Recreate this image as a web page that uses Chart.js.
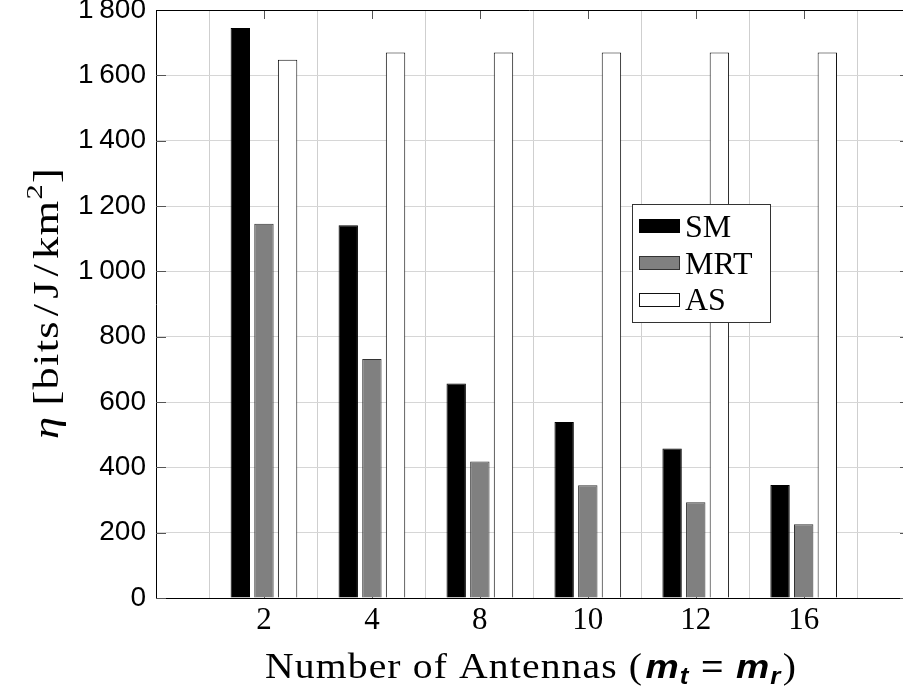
<!DOCTYPE html>
<html>
<head>
<meta charset="utf-8">
<script src="https://cdn.jsdelivr.net/npm/chart.js@4.4.1/dist/chart.umd.min.js"></script>
<style>
  html, body { margin: 0; padding: 0; background: #fff; }
  #c { display: block; }
</style>
</head>
<body>
<canvas id="c" width="903" height="692"></canvas>
<script>
// Number of antennas (m_t = m_r) on the horizontal axis
const antennas = ['2', '4', '8', '10', '12', '16'];
// Energy efficiency η [bits/J/km²] per scheme
const smValues  = [1745, 1141, 657, 539, 458, 346];
const mrtValues = [1146, 732, 418, 345, 293, 226];
const asValues  = [1648, 1670, 1670, 1670, 1670, 1670];
// Vertical axis ticks
const yTicks = [0, 200, 400, 600, 800, 1000, 1200, 1400, 1600, 1800];

const SERIF = '"Liberation Serif", "DejaVu Serif", serif';
const SANS = '"Liberation Sans", "DejaVu Sans", sans-serif';

const toPoints = vals => vals.map((v, i) => ({ x: i + 1, y: v }));

function fmtThousands(v) {
  const s = String(v);
  return s.length > 3 ? s.slice(0, -3) + '\u2009' + s.slice(-3) : s;
}

function line(ctx, x1, y1, x2, y2) {
  ctx.beginPath(); ctx.moveTo(x1, y1); ctx.lineTo(x2, y2); ctx.stroke();
}

// Natural width of a run of styled text pieces
function runsWidth(ctx, runs) {
  return runs.reduce((w, r) => {
    ctx.font = r.font;
    return w + ctx.measureText(r.text).width + (r.gap || 0);
  }, 0);
}

// Draws the runs centred on (cx, y) over the given span: letters are
// spread a little first, any remainder is taken up by a mild widening
function drawSpan(ctx, runs, cx, y, span, maxSpacing) {
  const w0 = runsWidth(ctx, runs);
  const n = runs.reduce((c, r) => c + [...r.text].length, 0);
  const ls = Math.max(0, Math.min(maxSpacing, (span - w0) / n));
  const w1 = w0 + ls * n;
  const k = span / w1;
  ctx.save();
  ctx.translate(cx, y);
  ctx.scale(k, 1);
  let x = -w1 / 2;
  runs.forEach(r => {
    ctx.font = r.font;
    const base = ctx.measureText(r.text).width;
    let cxp = x;
    [...r.text].forEach(ch => {
      ctx.fillText(ch, cxp, r.dy || 0);
      cxp += ctx.measureText(ch).width + ls;
    });
    x += base + ls * [...r.text].length + (r.gap || 0);
  });
  ctx.restore();
}

// Inward tick marks, drawn beneath the bars
const innerTicks = {
  id: 'innerTicks',
  beforeDatasetsDraw(chart) {
    const { ctx, chartArea: a, scales: { x, y } } = chart;
    ctx.save();
    ctx.strokeStyle = '#555';
    ctx.lineWidth = 1;
    y.ticks.forEach(t => {
      const py = Math.round(y.getPixelForValue(t.value)) + 0.5;
      line(ctx, a.left, py, a.left + 10, py);
      line(ctx, a.right, py, a.right - 3, py);
    });
    x.ticks.forEach(t => {
      const px = Math.round(x.getPixelForValue(t.value)) + 0.5;
      line(ctx, px, a.top, px, a.top + 9);
      line(ctx, px, a.bottom, px, a.bottom - 9);
    });
    ctx.restore();
  }
};

// Frame top edge, legend box and axis titles
const decorations = {
  id: 'decorations',
  afterDraw(chart) {
    const { ctx, chartArea: a } = chart;
    ctx.save();
    ctx.strokeStyle = '#000';
    ctx.lineWidth = 1;
    line(ctx, a.left, Math.round(a.top) + 0.5, a.right, Math.round(a.top) + 0.5);

    // legend
    const lx = 632.5, ly = 204.5, lw = 138, lh = 118;
    ctx.fillStyle = '#fff';
    ctx.fillRect(lx, ly, lw, lh);
    ctx.strokeStyle = '#333';
    ctx.strokeRect(lx, ly, lw, lh);
    chart.data.datasets.forEach((ds, i) => {
      const cy = 226.3 + i * 36.7;
      ctx.fillStyle = ds.backgroundColor;
      ctx.fillRect(639.5, Math.round(cy - 7) + 0.5, 40, 13);
      ctx.strokeStyle = ds.borderColor;
      ctx.strokeRect(639.5, Math.round(cy - 7) + 0.5, 40, 13);
      ctx.fillStyle = '#000';
      ctx.font = '32px ' + SERIF;
      ctx.textBaseline = 'alphabetic';
      ctx.textAlign = 'left';
      ctx.fillText(ds.label, 685, cy + 10.5);
    });

    // x axis title
    ctx.fillStyle = '#000';
    ctx.textBaseline = 'alphabetic';
    ctx.textAlign = 'left';
    const xRuns = [
      { text: 'Number of Antennas (', font: '35px ' + SERIF, gap: 2 },
      { text: 'm', font: 'italic bold 33px ' + SANS },
      { text: 't', font: 'italic bold 23px ' + SANS, dy: 6, gap: 10 },
      { text: '=', font: '34px ' + SANS, gap: 10 },
      { text: 'm', font: 'italic bold 33px ' + SANS },
      { text: 'r', font: 'italic bold 23px ' + SANS, dy: 6, gap: 1 },
      { text: ')', font: '35px ' + SERIF }
    ];
    drawSpan(ctx, xRuns, 531, 678, 532, 1);

    // y axis title
    ctx.save();
    ctx.translate(58, 303);
    ctx.rotate(-Math.PI / 2);
    const yRuns = [
      { text: 'η', font: 'italic 35px ' + SERIF, gap: 8 },
      { text: '[bits', font: '35px ' + SERIF, gap: 3 },
      { text: '/', font: '35px ' + SERIF, gap: 3 },
      { text: 'J', font: '35px ' + SERIF, gap: 3 },
      { text: '/', font: '35px ' + SERIF, gap: 3 },
      { text: 'km', font: '35px ' + SERIF },
      { text: '2', font: '24px ' + SERIF, dy: -16 },
      { text: ']', font: '35px ' + SERIF }
    ];
    drawSpan(ctx, yRuns, 0, 0, 272, 1);
    ctx.restore();
    ctx.restore();
  }
};

new Chart(document.getElementById('c'), {
  type: 'bar',
  data: {
    datasets: [
      { label: 'SM',  data: toPoints(smValues),  backgroundColor: '#000000', borderColor: '#000000', borderWidth: 1 },
      { label: 'MRT', data: toPoints(mrtValues), backgroundColor: '#808080', borderColor: '#333333', borderWidth: 1 },
      { label: 'AS',  data: toPoints(asValues),  backgroundColor: '#ffffff', borderColor: '#111111', borderWidth: 1 }
    ]
  },
  options: {
    responsive: false,
    animation: false,
    devicePixelRatio: 1,
    categoryPercentage: 0.657,
    barPercentage: 0.82,
    layout: { padding: { top: 10, right: 0, bottom: 0, left: 0 } },
    plugins: { legend: { display: false }, tooltip: { enabled: false } },
    scales: {
      x: {
        type: 'linear',
        min: 0,
        max: 6.92,
        offset: false,
        afterBuildTicks: s => { s.ticks = antennas.map((_, i) => ({ value: i + 1 })); },
        afterFit: s => { s.height = 94; s.paddingLeft = 0; s.paddingRight = 0; },
        grid: { color: '#cfcfcf', lineWidth: 1, drawTicks: false },
        border: { display: true, color: '#000', width: 1 },
        ticks: {
          autoSkip: false,
          maxRotation: 0,
          padding: 4,
          color: '#000',
          font: { family: SERIF, size: 31 },
          callback: v => antennas[Math.round(v) - 1] ?? ''
        }
      },
      y: {
        min: 0,
        max: 1800,
        afterBuildTicks: s => { s.ticks = yTicks.map(v => ({ value: v })); },
        afterFit: s => { s.width = 156; s.paddingTop = 0; s.paddingBottom = 0; },
        grid: { color: '#d6d6d6', lineWidth: 1, drawTicks: false },
        border: { display: true, color: '#000', width: 1 },
        ticks: {
          padding: 10,
          color: '#000',
          font: { family: SANS, size: 28 },
          callback: v => fmtThousands(v)
        }
      }
    }
  },
  plugins: [innerTicks, decorations]
});
</script>
</body>
</html>
